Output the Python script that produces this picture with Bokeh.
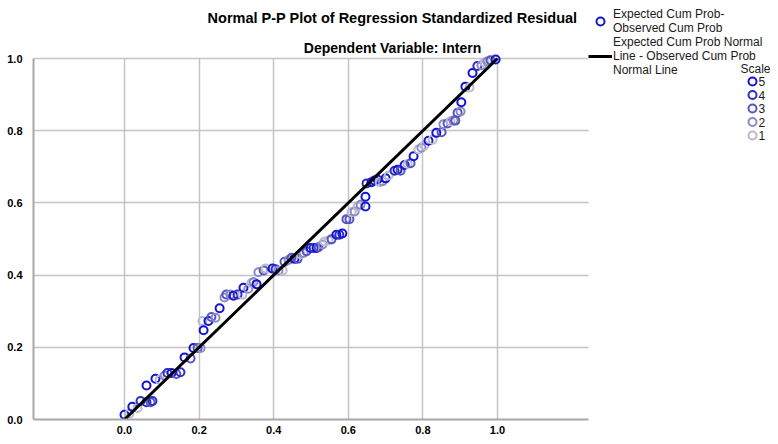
from bokeh.plotting import figure
from bokeh.models import (Range1d, FixedTicker, NumeralTickFormatter, ColumnDataSource,
                          Legend, LegendItem, Label, Grid)
from bokeh.core.properties import value
from bokeh.embed import file_html
from bokeh.resources import INLINE

# ---- data ----
expected_cum_prob = [
    0.000, 0.013, 0.021, 0.035, 0.043, 0.059, 0.059, 0.070, 0.075, 0.083,
    0.094, 0.107, 0.115, 0.126, 0.139, 0.150, 0.161, 0.177, 0.185, 0.196,
    0.204, 0.209, 0.212, 0.225, 0.233, 0.244, 0.255, 0.268, 0.273, 0.284,
    0.292, 0.303, 0.316, 0.319, 0.332, 0.340, 0.346, 0.354, 0.359, 0.373,
    0.378, 0.397, 0.405, 0.413, 0.424, 0.429, 0.440, 0.448, 0.456, 0.464,
    0.472, 0.480, 0.488, 0.499, 0.507, 0.515, 0.520, 0.531, 0.536, 0.547,
    0.555, 0.568, 0.576, 0.584, 0.595, 0.603, 0.609, 0.617, 0.625, 0.633,
    0.646, 0.646, 0.649, 0.662, 0.670, 0.678, 0.684, 0.692, 0.700, 0.708,
    0.724, 0.732, 0.740, 0.751, 0.759, 0.767, 0.775, 0.788, 0.796, 0.804,
    0.815, 0.826, 0.836, 0.850, 0.855, 0.866, 0.874, 0.882, 0.887, 0.893,
    0.901, 0.903, 0.914, 0.925, 0.933, 0.946, 0.957, 0.965, 0.973, 0.981,
    0.995,
]
observed_cum_prob = [
    0.013, 0.016, 0.035, 0.032, 0.051, 0.094, 0.048, 0.048, 0.051, 0.113,
    0.110, 0.121, 0.129, 0.129, 0.126, 0.131, 0.172, 0.169, 0.198, 0.198,
    0.198, 0.273, 0.247, 0.273, 0.284, 0.282, 0.308, 0.338, 0.346, 0.346,
    0.343, 0.346, 0.346, 0.365, 0.362, 0.378, 0.381, 0.375, 0.408, 0.413,
    0.418, 0.418, 0.416, 0.413, 0.413, 0.437, 0.442, 0.448, 0.445, 0.445,
    0.458, 0.461, 0.466, 0.475, 0.475, 0.475, 0.477, 0.485, 0.493, 0.496,
    0.499, 0.512, 0.512, 0.515, 0.555, 0.555, 0.574, 0.576, 0.590, 0.595,
    0.590, 0.617, 0.654, 0.657, 0.662, 0.665, 0.657, 0.660, 0.668, 0.676,
    0.689, 0.692, 0.689, 0.705, 0.708, 0.710, 0.729, 0.748, 0.753, 0.759,
    0.772, 0.775, 0.794, 0.796, 0.818, 0.820, 0.826, 0.828, 0.828, 0.850,
    0.853, 0.879, 0.922, 0.920, 0.960, 0.979, 0.981, 0.989, 0.992, 0.995,
    0.997,
]
scale = [
    5, 1, 5, 1, 4, 5, 4, 3, 4, 5,
    1, 2, 4, 5, 3, 4, 5, 3, 5, 3,
    2, 1, 5, 5, 3, 2, 5, 2, 3, 2,
    5, 4, 1, 5, 2, 1, 2, 5, 2, 3,
    1, 5, 4, 2, 1, 3, 2, 3, 5, 3,
    1, 2, 3, 5, 4, 5, 3, 2, 1, 1,
    3, 5, 4, 5, 3, 3, 1, 2, 1, 2,
    5, 5, 4, 5, 5, 5, 1, 2, 5, 1,
    4, 5, 3, 5, 1, 3, 5, 1, 2, 1,
    5, 1, 5, 3, 2, 3, 1, 2, 3, 3,
    2, 5, 5, 1, 5, 4, 2, 1, 2, 3,
    5,
]
normal_line_x = [0.0, 1.0]
normal_line_y = [0.0, 1.0]
tick_values = [0.0, 0.2, 0.4, 0.6, 0.8, 1.0]
scale_levels = [5, 4, 3, 2, 1]
scale_palette = {5: "#1414d2", 4: "#2e2ec8", 3: "#5656bf", 2: "#8a8acb", 1: "#babacc"}

title_text = "Normal P-P Plot of Regression Standardized Residual"
subtitle_text = "Dependent Variable: Intern"
legend_point_label = "Expected Cum Prob-\nObserved Cum Prob"
legend_line_label = "Expected Cum Prob Normal\nLine - Observed Cum Prob\nNormal Line"
scale_title = "Scale"

FONT = "Liberation Sans"
GRID = "#c4c4c4"
TXT = "#1a1a1a"

# ---- layout geometry (canvas pixels) ----
W, H = 770, 436
LEFT = 33            # frame left (y axis line)
BOTTOM_PANEL = 17    # space taken by the x axis labels
FRAME_H = H - BOTTOM_PANEL
X0_PX, X1_PX = 124.0, 497.0   # pixel positions of x = 0 and x = 1
Y1_PX = 58.0                  # pixel position of y = 1 (from top)
XPU = X1_PX - X0_PX
YPU = FRAME_H - Y1_PX
X_LO, X_HI = -0.244, 1.244    # plotted x extent (axis & grid)

def dx(px):
    return (px - X0_PX) / XPU

def dy(py):
    return (FRAME_H - py) / YPU

p = figure(width=W, height=H,
           x_range=Range1d(dx(LEFT), dx(W)), y_range=Range1d(0, dy(0)),
           output_backend="svg", toolbar_location=None, title=None,
           min_border_left=LEFT, min_border_right=0, min_border_top=0, min_border_bottom=0)
p.outline_line_color = None
p.background_fill_color = "white"

p.xaxis[0].bounds = (X_LO, X_HI)
p.yaxis[0].bounds = (0, 1)
for ax in (p.xaxis[0], p.yaxis[0]):
    ax.ticker = FixedTicker(ticks=tick_values)
    ax.formatter = NumeralTickFormatter(format="0.0")
    ax.major_tick_line_color = None
    ax.minor_tick_line_color = None
    ax.axis_line_color = "#a8a8a8"
    ax.axis_line_width = 2
    ax.major_label_text_font = FONT
    ax.major_label_text_font_style = "bold"
    ax.major_label_text_font_size = "11px"
    ax.major_label_text_color = "#000000"
p.yaxis[0].major_label_standoff = 5
p.xaxis[0].major_label_standoff = 0

if "cross_bounds" in Grid.properties():
    p.xgrid[0].ticker = FixedTicker(ticks=tick_values)
    p.ygrid[0].ticker = FixedTicker(ticks=tick_values)
    p.xgrid[0].bounds = (X_LO, X_HI)
    p.xgrid[0].cross_bounds = (0, 1)
    p.ygrid[0].bounds = (0, 1)
    p.ygrid[0].cross_bounds = (X_LO, X_HI)
    for g in (p.xgrid[0], p.ygrid[0]):
        g.grid_line_color = GRID
        g.grid_line_width = 1.5
else:
    p.grid.visible = False
    p.segment(x0=tick_values, y0=[0] * len(tick_values), x1=tick_values, y1=[1] * len(tick_values),
              line_color=GRID, line_width=1.5)
    p.segment(x0=[X_LO] * len(tick_values), y0=tick_values, x1=[X_HI] * len(tick_values),
              y1=tick_values, line_color=GRID, line_width=1.5)

src = ColumnDataSource(dict(
    x=expected_cum_prob, y=observed_cum_prob,
    color=[scale_palette[s] for s in scale],
))
pts = p.scatter("x", "y", source=src, size=8, marker="circle", fill_color=None,
                line_color="color", line_width=2)
ln = p.line(normal_line_x, normal_line_y, line_color="black", line_width=3)

# titles
p.add_layout(Label(x=dx(392), y=dy(17), text=title_text, text_align="center",
                   text_baseline="middle", text_font=FONT, text_font_style="bold",
                   text_font_size="14.5px", text_color="black"))
p.add_layout(Label(x=dx(392), y=dy(47), text=subtitle_text, text_align="center",
                   text_baseline="middle", text_font=FONT, text_font_style="bold",
                   text_font_size="14px", text_color="black"))

# main legend
main_legend = Legend(
    items=[LegendItem(label=legend_point_label, renderers=[pts]),
           LegendItem(label=legend_line_label, renderers=[ln])],
    location=(588 - LEFT, FRAME_H - 5 - 72), orientation="vertical",
    glyph_width=24, glyph_height=20, label_standoff=1, spacing=0, padding=0, margin=0,
    border_line_color=None, background_fill_alpha=0,
    label_text_font=FONT, label_text_font_size="12px", label_text_color=TXT,
    label_text_line_height=1.2,
)
p.add_layout(main_legend, "center")

# scale legend (size/colour key)
key_px_x = 752
key_py = [81 + 13.5 * i for i in range(len(scale_levels))]
key_src = ColumnDataSource(dict(
    x=[dx(key_px_x)] * len(scale_levels),
    tx=[dx(key_px_x + 6)] * len(scale_levels),
    y=[dy(v) for v in key_py],
    label=[str(s) for s in scale_levels],
    color=[scale_palette[s] for s in scale_levels],
))
p.scatter("x", "y", source=key_src, size=8, marker="circle", fill_color=None,
          line_color="color", line_width=2)
p.text("tx", "y", text="label", source=key_src, text_font=value(FONT), text_font_size="12px",
       text_color=TXT, text_baseline="middle", text_align="left")
p.add_layout(Label(x=dx(740), y=dy(68), text=scale_title, text_align="left",
                   text_baseline="middle", text_font=FONT, text_font_size="12px",
                   text_color=TXT))

open("out.html", "w").write(file_html(p, INLINE))
